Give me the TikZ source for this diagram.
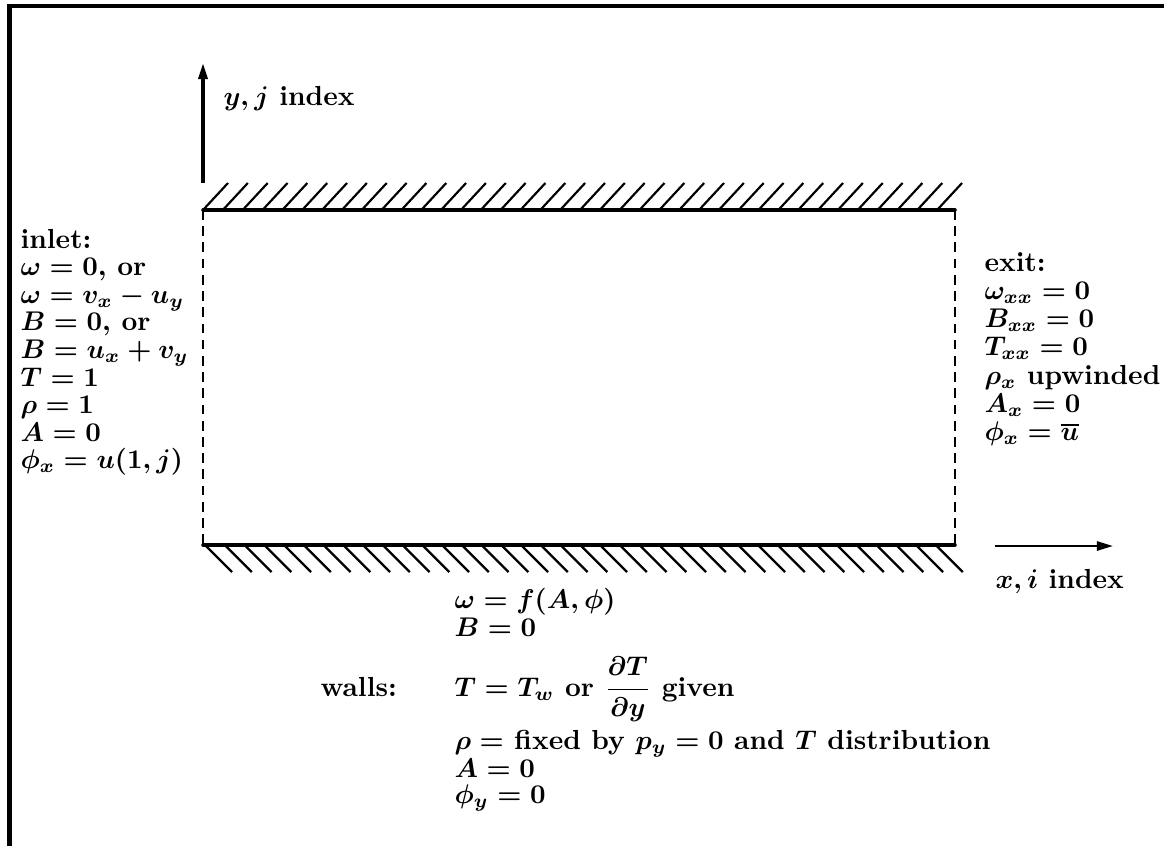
\documentclass[tikz,border=0pt]{standalone}
\usetikzlibrary{arrows.meta}
\begin{document}
\begin{tikzpicture}[x=0.37pt,y=-0.37pt,
  lbl/.style={anchor=base west,inner sep=0pt,font=\fontsize{10.2}{12}\selectfont\bfseries\boldmath},
  wall/.style={line width=1.3pt,line cap=round},
  hatch/.style={line width=0.8pt},
  openb/.style={dash pattern=on 3.6pt off 2.4pt,line width=0.85pt},
  axis/.style={line width=1.2pt,-{Triangle[length=6pt,width=3.4pt]}},
  frame/.style={line width=1.5pt}]
\useasboundingbox (0,0) rectangle (1164,846);
% frame
\coordinate (F0) at (9.5,846);
\coordinate (F1) at (9.5,6);
\coordinate (F2) at (1164,6);
\draw[frame] (F0) -- (F1) -- (F2);
% channel corners
\coordinate (TL) at (203,210);
\coordinate (TR) at (955,210);
\coordinate (BL) at (203,545);
\coordinate (BR) at (955,545);
% walls
\draw[wall] (TL) -- (TR);
\draw[wall] (BL) -- (BR);
\foreach \k in {0,...,37}{
  \draw[hatch] ({203+\k*19.84},210) -- ++(25,-27);
  \draw[hatch] ({205+\k*19.75},545) -- ++(27,27);
}
% open boundaries
\draw[openb] (TL) -- (BL);
\draw[openb] (TR) -- (BR);
% axes
\coordinate (ybase) at (203,183);
\coordinate (ytip) at (203,63);
\draw[axis] (ybase) -- (ytip);
\node[lbl] (ylab) at (223,105) {$y,j$ index};
\coordinate (xbase) at (995,546);
\coordinate (xtip) at (1113,546);
\draw[axis,line width=0.9pt] (xbase) -- (xtip);
\node[lbl] (xlab) at (995,588) {$x,i$ index};
% inlet
\node[lbl] (in0) at (20,248) {inlet:};
\node[lbl] (in1) at (20,275.6) {$\omega=0$, or};
\node[lbl] (in2) at (20,303.2) {$\omega=v_x-u_y$};
\node[lbl] (in3) at (20,330.8) {$B=0$, or};
\node[lbl] (in4) at (20,358.4) {$B=u_x+v_y$};
\node[lbl] (in5) at (20,386) {$T=1$};
\node[lbl] (in6) at (20,413.6) {$\rho=1$};
\node[lbl] (in7) at (20,441.2) {$A=0$};
\node[lbl] (in8) at (20,468.8) {$\phi_x=u(1,j)$};
% exit
\node[lbl] (ex0) at (984,271) {exit:};
\node[lbl] (ex1) at (984,299.3) {$\omega_{xx}=0$};
\node[lbl] (ex2) at (984,327.6) {$B_{xx}=0$};
\node[lbl] (ex3) at (984,355.9) {$T_{xx}=0$};
\node[lbl] (ex4) at (984,384.2) {$\rho_x$ upwinded};
\node[lbl] (ex5) at (984,412.5) {$A_x=0$};
\node[lbl] (ex6) at (984,440.8) {$\phi_x=\overline{u}$};
% walls
\node[lbl] (wl) at (320,696) {walls:};
\node[lbl] (w1) at (454,608) {$\omega=f(A,\phi)$};
\node[lbl] (w2) at (454,636) {$B=0$};
\node[lbl] (w3) at (454,696) {$T=T_w$ or ${\displaystyle\frac{\partial T}{\partial y}}$ given};
\node[lbl] (w4) at (454,749) {$\rho=$ fixed by $p_y=0$ and $T$ distribution};
\node[lbl] (w5) at (454,777) {$A=0$};
\node[lbl] (w6) at (454,803) {$\phi_y=0$};
\end{tikzpicture}
\end{document}
